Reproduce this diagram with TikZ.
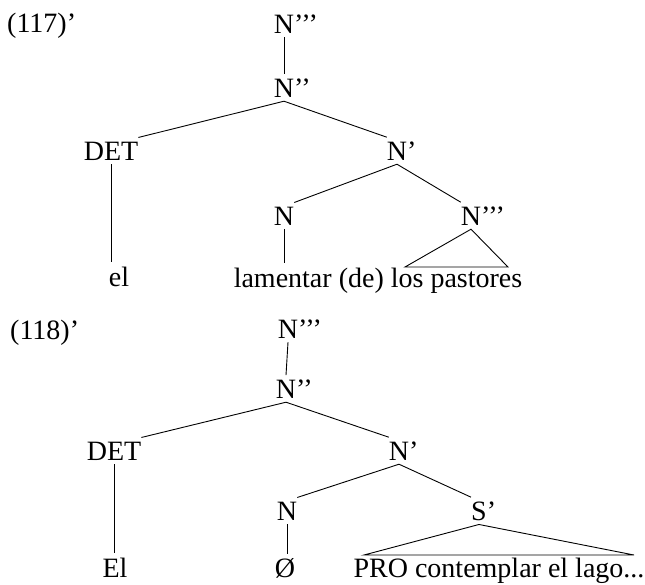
\documentclass[tikz,border=0pt]{standalone}
\usepackage{fontspec}
\setmainfont{Liberation Serif}
\begin{document}
\begin{tikzpicture}[x=1pt,y=-1pt,
  lbl/.style={inner xsep=0pt,inner ysep=4pt,anchor=base,font=\fontsize{28}{32}\selectfont},
  edge/.style={line width=0.9pt}]
\useasboundingbox (0,0) rectangle (645,584);
% ---- (117)'
\node[lbl,anchor=base west] (ex1) at (7,32) {(117)’};
\node[lbl] (a1) at (284,33) {N\rlap{’’’}};
\node[lbl] (a2) at (284,97) {N\rlap{’’}};
\node[lbl] (adet) at (111,160) {DET};
\node[lbl] (anb) at (397,160) {N\rlap{’}};
\node[lbl] (an) at (284,225) {N};
\node[lbl] (anp) at (471,225) {N\rlap{’’’}};
\node[lbl] (ael) at (119,286) {el};
\node[lbl] (alam) at (378,287) {lamentar (de) los pastores};
\coordinate (atl) at (405,267);
\coordinate (atr) at (508,267);
\draw[edge] (a1.south) -- (a2.north);
\draw[edge] (a2.south) -- (adet.north east);
\draw[edge] (a2.south) -- (anb.north west);
\draw[edge] (adet.south) -- (adet.south |- ael.north);
\draw[edge] (anb.south) -- (an.north east);
\draw[edge] (anb.south) -- (anp.north west);
\draw[edge] (an.south) -- (an.south |- alam.north);
\draw[edge] (anp.south) -- (atl) -- (atr) -- cycle;
% ---- (118)'
\node[lbl,anchor=base west] (ex2) at (10,339) {(118)’};
\node[lbl] (b1) at (288,338) {N\rlap{’’’}};
\node[lbl] (b2) at (286,398) {N\rlap{’’}};
\node[lbl] (bdet) at (114,460) {DET};
\node[lbl] (bnb) at (399,460) {N\rlap{’}};
\node[lbl] (bn) at (287,520) {N};
\node[lbl] (bs) at (479,520) {S\rlap{’}};
\node[lbl] (bel) at (115,577) {El};
\node[lbl] (bz) at (285,577) {Ø};
\node[lbl] (bpro) at (499,577) {PRO contemplar el lago...};
\coordinate (btl) at (364,555);
\coordinate (btr) at (634,555);
\draw[edge] (b1.south) -- (b2.north);
\draw[edge] (b2.south) -- (bdet.north east);
\draw[edge] (b2.south) -- (bnb.north west);
\draw[edge] (bdet.south) -- (bdet.south |- bel.north);
\draw[edge] (bnb.south) -- (bn.north east);
\draw[edge] (bnb.south) -- (bs.north west);
\draw[edge] (bn.south) -- (bn.south |- bz.north);
\draw[edge] (bs.south) -- (btl) -- (btr) -- cycle;
\end{tikzpicture}
\end{document}
